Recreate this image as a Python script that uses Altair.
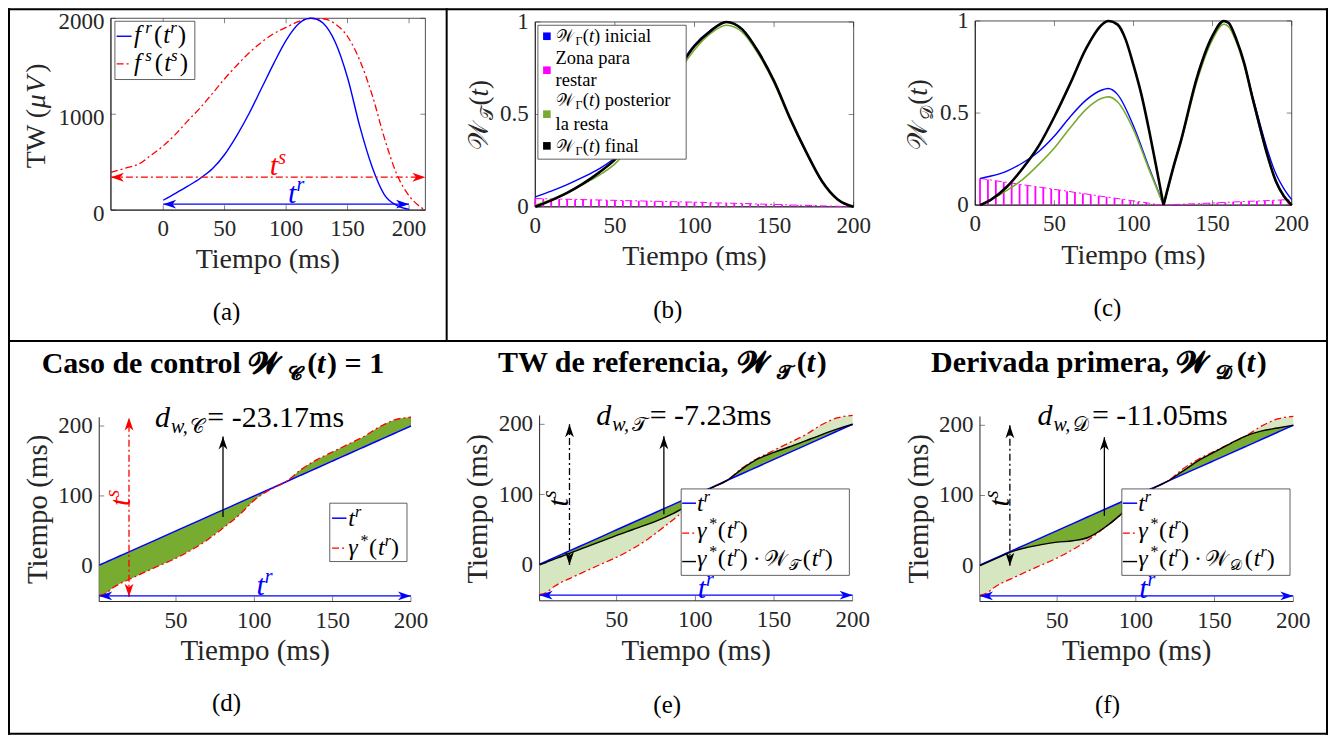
import math
import altair as alt
import pandas as pd

OX, OY = 8, 8
VW, VH = 1321, 727
FONT = "Liberation Serif"
MFONT = "Liberation Serif, DejaVu Serif, DejaVu Sans, Noto Sans"
AX = "#262626"
BLUE, RED, MAG, GRN, LGRN, BLK = "#0000FF", "#FF0000", "#FF00FF", "#77AC30", "#D6E6C1", "#000000"
DD = [7, 3, 2, 3]
HEAD = "M0,0L-1,-0.34L-0.72,0L-1,0.34Z"

# ---------------- data ----------------
# (a) waveforms
FR_T = [0, 10, 20, 30, 40, 50, 60, 70, 80, 90, 100, 110, 115, 120, 125, 130, 140, 150, 160, 170, 180, 190, 200]
FR_V = [103, 175, 250, 330, 430, 580, 780, 1010, 1270, 1530, 1770, 1940, 1985, 2000, 1990, 1950, 1750, 1380, 870, 450, 160, 50, 8]
FS_T = [-42.5, -30, -20, -10, 0, 10, 20, 30, 40, 50, 60, 70, 80, 90, 100, 110, 120, 130, 140, 150, 160, 170, 180, 190, 200, 207, 213.3]
FS_V = [394, 440, 480, 570, 669, 790, 930, 1065, 1215, 1370, 1510, 1640, 1750, 1840, 1905, 1965, 1998, 1995, 1940, 1810, 1560, 1200, 750, 375, 150, 55, 0]

# (b) weight W_T
B_T = [0, 10, 20, 30, 40, 50, 60, 70, 80, 90, 100, 110, 120, 130, 140, 150, 160, 170, 180, 190, 200]
B_BLUE = [0.054, 0.085, 0.12, 0.16, 0.205, 0.265, 0.36, 0.48, 0.61, 0.755, 0.875, 0.955, 1.0, 0.96, 0.84, 0.68, 0.48, 0.30, 0.14, 0.04, 0.0]
B_GREEN = [0.009, 0.04, 0.078, 0.122, 0.17, 0.232, 0.33, 0.453, 0.585, 0.728, 0.85, 0.937, 0.982, 0.945, 0.828, 0.670, 0.473, 0.295, 0.137, 0.039, 0.0]
B_BLACK = [0.0, 0.035, 0.075, 0.125, 0.185, 0.255, 0.35, 0.47, 0.60, 0.745, 0.87, 0.95, 1.0, 0.96, 0.84, 0.68, 0.48, 0.30, 0.14, 0.04, 0.0]
ZB_T = [0, 5, 10, 15, 20, 25, 30, 35, 40, 45, 50, 55, 60, 65, 70, 75, 80, 85, 90, 95, 100,
        105, 110, 115, 120, 125, 130, 135, 140, 145, 150, 155, 160, 165, 170, 175, 180, 185, 190, 195, 200]
ZB_V = [0.045, 0.044, 0.043, 0.042, 0.041, 0.040, 0.039, 0.038, 0.037, 0.036, 0.035, 0.034, 0.033, 0.032, 0.031,
        0.030, 0.029, 0.028, 0.027, 0.026, 0.025, 0.024, 0.022, 0.021, 0.020, 0.019, 0.018, 0.017, 0.015, 0.014,
        0.013, 0.012, 0.010, 0.009, 0.008, 0.007, 0.005, 0.004, 0.003, 0.001, 0.000]

# (c) weight W_D (two humps)
C_BLK_T1 = [3, 10, 20, 30, 40, 50, 60, 70, 80, 84, 90, 95, 100, 105, 110, 115, 119]
C_BLK_V1 = [0, 0.03, 0.1, 0.2, 0.32, 0.48, 0.66, 0.85, 0.98, 1.0, 0.98, 0.9, 0.76, 0.6, 0.4, 0.18, 0]
C_T1 = [3, 10, 20, 30, 40, 50, 60, 70, 80, 84, 90, 100, 110, 119]
C_BLU_V1 = [0.145, 0.158, 0.185, 0.23, 0.29, 0.375, 0.48, 0.57, 0.625, 0.633, 0.6, 0.43, 0.2, 0]
C_GRN_V1 = [0.0, 0.03, 0.08, 0.14, 0.22, 0.31, 0.42, 0.52, 0.58, 0.588, 0.56, 0.41, 0.19, 0]
C_T2 = [119, 125, 130, 140, 150, 157, 160, 165, 170, 175, 180, 185, 190, 195, 200]
C_BLK_V2 = [0, 0.2, 0.35, 0.69, 0.92, 1.0, 0.99, 0.9, 0.77, 0.59, 0.42, 0.26, 0.13, 0.05, 0]
C_BLU_V2 = [0, 0.2, 0.35, 0.69, 0.92, 1.0, 0.99, 0.9, 0.77, 0.6, 0.44, 0.29, 0.17, 0.09, 0.03]
C_GRN_V2 = [0, 0.19, 0.34, 0.67, 0.9, 0.982, 0.97, 0.885, 0.755, 0.58, 0.41, 0.255, 0.125, 0.045, 0]
ZC_T = [3, 8, 13, 18, 23, 28, 33, 38, 43, 48, 53, 58, 63, 68, 73, 78, 83, 88, 93, 98,
        103, 108, 113, 118, 123, 128, 133, 138, 143, 148, 153, 158, 163, 168, 173, 178, 183, 188, 193, 198]
ZC_V = [0.145, 0.139, 0.132, 0.126, 0.120, 0.113, 0.107, 0.101, 0.095, 0.088, 0.082, 0.076, 0.069, 0.063, 0.057,
        0.050, 0.044, 0.038, 0.032, 0.025, 0.019, 0.013, 0.006, 0.000, 0.002, 0.004, 0.006, 0.007, 0.009, 0.011,
        0.013, 0.015, 0.017, 0.019, 0.021, 0.022, 0.024, 0.026, 0.028, 0.030]

# (d)(e)(f) warping paths
BT = [1, 5, 10, 15, 20, 30, 40, 50, 60, 70, 80, 90, 100, 110, 120, 130, 140, 150, 160, 170, 180, 190, 200]
GAMMA = [-42, -39.5, -31, -24.5, -19.5, -9, 1, 11, 23, 37, 54, 72, 94, 109, 120, 138, 152, 163, 174, 185, 199, 209, 212.5]
E_BLACK = [0, 3.5, 8, 12, 16.5, 25, 33.5, 42, 50, 58, 67, 78, 93, 109, 120, 137, 151, 160, 168, 176.5, 185, 193, 200]
F_BLACK = [0, 4, 9, 14, 19, 25.5, 30, 33.5, 35.5, 40.5, 54, 72, 94, 109, 120, 135, 150, 162, 174, 185, 192, 196, 200]

# arrows: x1, y1, x2, y2, colour, dash, double-headed
ARROWS_A = [(-42.5, 343, 213.3, 343, RED, DD, True), (0, 62, 200, 62, BLUE, None, True)]
ARROWS_D = [(20, -44, 20, 212, RED, DD, True), (1, -43, 200, -43, BLUE, None, True), (80, 70, 80, 185, BLK, None, False)]
ARROWS_E = [(20, 0, 20, 200, BLK, DD, True), (1, -43, 200, -43, BLUE, None, True), (80, 72, 80, 183, BLK, None, False)]
ARROWS_F = [(20, 0, 20, 200, BLK, DD, True), (1, -43, 200, -43, BLUE, None, True), (80, 71, 80, 183, BLK, None, False)]

TICKS_X_TOP = [0, 50, 100, 150, 200]
TICKS_X_BOT = [50, 100, 150, 200]
TICKS_Y_A = [0, 1000, 2000]
TICKS_Y_W = [0, 0.5, 1]
TICKS_Y_BOT = [0, 100, 200]

# ---------------- helpers ----------------
ONE = pd.DataFrame({"k": [0]})

EM = {" ": .25, "(": .333, ")": .333, ",": .25, ".": .25, "-": .333, "=": .564, "*": .5, "·": .25,
      "a": .444, "b": .5, "c": .444, "d": .5, "e": .444, "f": .333, "g": .5, "h": .5, "i": .278, "j": .278,
      "k": .5, "l": .278, "m": .778, "n": .5, "o": .5, "p": .5, "q": .5, "r": .333, "s": .389, "t": .278,
      "u": .5, "v": .5, "w": .722, "x": .5, "y": .5, "z": .444, "C": .667, "D": .722, "T": .611, "V": .722,
      "W": .944, "Z": .611, "γ": .45, "Γ": .6, "μ": .55, "𝒲": 1.12, "𝒯": .8, "𝒟": .85, "𝒞": .75,
      "𝓦": 1.25, "𝓒": .8, "𝓣": .85, "𝓓": .9}
EMB = {" ": .25, "(": .333, ")": .333, ",": .25, "=": .57, "1": .5, "a": .5, "b": .556, "c": .444, "d": .556,
       "e": .444, "f": .333, "i": .278, "l": .278, "m": .833, "n": .556, "o": .5, "p": .556, "r": .444,
       "s": .389, "t": .333, "v": .5, "C": .722, "D": .722, "T": .667, "W": 1.0}
I = {"style": "italic"}
B = {"weight": "bold"}
BI = {"weight": "bold", "style": "italic"}


def sup(size, gap=0):
    return {"style": "italic", "dy": -0.38 * size, "gap": gap}


def sub(size, italic=False, gap=0):
    d = {"dy": 0.2 * size, "gap": gap}
    if italic:
        d["style"] = "italic"
    return d


def width(s, size, weight):
    tab = EMB if weight == "bold" else EM
    return sum(tab.get(c, EM.get(c, .5) * 1.05) for c in s) * size


def txt(s, x, y, size, color=BLK, style="normal", weight="normal", angle=0, align="left", baseline="alphabetic"):
    return alt.Chart(ONE).mark_text(
        text=s, font=MFONT, fontSize=size, fontStyle=style, fontWeight=weight, color=color,
        angle=angle, align=align, baseline=baseline
    ).encode(x=alt.value(round(x - OX, 2)), y=alt.value(round(y - OY, 2)))


def rich(parts, x, y, angle=0, color=BLK):
    th = math.radians(angle)
    ax_, ay_ = math.cos(th), math.sin(th)
    nx, ny = -math.sin(th), math.cos(th)
    cum = 0.0
    out = []
    for part in parts:
        s, size = part[0], part[1]
        o = part[2] if len(part) > 2 else {}
        dy = o.get("dy", 0)
        st, wt = o.get("style", "normal"), o.get("weight", "normal")
        out.append(txt(s, x + cum * ax_ + dy * nx, y + cum * ay_ + dy * ny, size, o.get("color", color), st, wt, angle))
        cum += width(s, size, wt) + o.get("gap", 0)
    return out


def prule(x1, x2, y1, y2, color=BLK, w=2, dash=None):
    kw = dict(color=color, strokeWidth=w)
    if dash:
        kw["strokeDash"] = dash
    return alt.Chart(ONE).mark_rule(**kw).encode(
        x=alt.value(x1 - OX), x2=alt.value(x2 - OX), y=alt.value(y1 - OY), y2=alt.value(y2 - OY))


def pbox(x1, y1, x2, y2):
    return alt.Chart(ONE).mark_rect(fill="white", stroke="#3a3a3a", strokeWidth=0.8).encode(
        x=alt.value(x1 - OX), x2=alt.value(x2 - OX), y=alt.value(y1 - OY), y2=alt.value(y2 - OY))


def psquare(x, y, color):
    return alt.Chart(ONE).mark_point(shape="square", filled=True, size=58, color=color, opacity=1).encode(
        x=alt.value(x - OX), y=alt.value(y - OY))


def mk_panel(dx, px, dy, py, xt, yt, box, ylab_dy=0):
    sx = alt.Scale(domain=dx, range=[px[0] - OX, px[1] - OX], nice=False, zero=False)
    sy = alt.Scale(domain=dy, range=[py[0] - OY, py[1] - OY], nice=False, zero=False)
    return dict(sx=sx, sy=sy, dx=dx, dy=dy, xt=xt, yt=yt, box=box, ylab_dy=ylab_dy)


def XQ(f, p):
    return alt.X(f, type="quantitative", scale=p["sx"], axis=None)


def YQ(f, p):
    return alt.Y(f, type="quantitative", scale=p["sy"], axis=None)


def lab(v):
    return "%g" % v


def axes_layers(p):
    out = []
    x0, x1 = p["dx"]
    y0, y1 = p["dy"]
    bt = pd.DataFrame({"v": p["xt"], "e": [y0] * len(p["xt"]), "lab": [lab(v) for v in p["xt"]]})
    lt = pd.DataFrame({"v": p["yt"], "e": [x0] * len(p["yt"]), "lab": [lab(v) for v in p["yt"]]})
    # domain lines (bottom and left)
    dl = pd.DataFrame({"xa": [x0, x0], "xb": [x1, x0], "ya": [y0, y0], "yb": [y0, y1]})
    out.append(alt.Chart(dl).mark_rule(color=AX, strokeWidth=1).encode(x=XQ("xa", p), x2="xb", y=YQ("ya", p), y2="yb"))
    out.append(alt.Chart(bt).mark_tick(orient="vertical", size=5, thickness=0.8, yOffset=-2.5, color=AX)
               .encode(x=XQ("v", p), y=YQ("e", p)))
    out.append(alt.Chart(lt).mark_tick(orient="horizontal", size=5, thickness=0.8, xOffset=2.5, color=AX)
               .encode(x=XQ("e", p), y=YQ("v", p)))
    out.append(alt.Chart(bt).mark_text(font=FONT, fontSize=23, color=AX, align="center", baseline="middle", dy=19)
               .encode(x=XQ("v", p), y=YQ("e", p), text="lab:N"))
    ykw = dict(font=FONT, fontSize=23, color=AX, align="right", baseline="middle", dx=-6.5)
    if p["ylab_dy"]:
        ykw["dy"] = p["ylab_dy"]
    out.append(alt.Chart(lt).mark_text(**ykw).encode(x=XQ("e", p), y=YQ("v", p), text="lab:N"))
    if p["box"]:
        tt = pd.DataFrame({"v": p["xt"], "e": [y1] * len(p["xt"])})
        out.append(alt.Chart(tt).mark_tick(orient="vertical", size=5, thickness=0.8, yOffset=2.5, color=AX)
                   .encode(x=XQ("v", p), y=YQ("e", p)))
        rt = pd.DataFrame({"v": p["yt"], "e": [x1] * len(p["yt"])})
        out.append(alt.Chart(rt).mark_tick(orient="horizontal", size=5, thickness=0.8, xOffset=-2.5, color=AX)
                   .encode(x=XQ("e", p), y=YQ("v", p)))
        fr = pd.DataFrame({"x0": [x0], "x1": [x1], "y0": [y0], "y1": [y1]})
        out.append(alt.Chart(fr).mark_rect(fillOpacity=0, stroke=AX, strokeWidth=0.8)
                   .encode(x=XQ("x0", p), x2="x1", y=YQ("y0", p), y2="y1"))
    return out


def line(p, t, v, color, w=1.5, dash=None):
    df = pd.DataFrame({"t": t, "v": v})
    kw = dict(color=color, strokeWidth=w, interpolate="monotone")
    if dash:
        kw["strokeDash"] = dash
    return alt.Chart(df).mark_line(**kw).encode(x=XQ("t", p), y=YQ("v", p))


def band(p, t, a, b, color):
    df = pd.DataFrame({"t": t, "a": a, "b": b})
    return alt.Chart(df).mark_area(color=color, opacity=1, interpolate="monotone").encode(
        x=XQ("t", p), y=YQ("a", p), y2="b")


def stems(p, t, v, color):
    df = pd.DataFrame({"t": t, "v": v, "z": [0] * len(t)})
    return alt.Chart(df).mark_rule(color=color, strokeWidth=1.8).encode(x=XQ("t", p), y=YQ("z", p), y2="v")


def arrows(p, arr):
    out = []
    for (x1, y1, x2, y2, col, dash, both) in arr:
        df = pd.DataFrame({"x1": [x1], "y1": [y1], "x2": [x2], "y2": [y2]})
        kw = dict(color=col, strokeWidth=1.3)
        if dash:
            kw["strokeDash"] = dash
        out.append(alt.Chart(df).mark_rule(**kw).encode(x=XQ("x1", p), y=YQ("y1", p), x2="x2", y2="y2"))
        if x1 != x2:
            a_end = 0 if x2 > x1 else 180
        else:
            a_end = 270 if y2 > y1 else 90
        hx, hy, ha = [x2], [y2], [a_end]
        if both:
            hx.append(x1)
            hy.append(y1)
            ha.append((a_end + 180) % 360)
        hd = pd.DataFrame({"x": hx, "y": hy, "a": ha})
        out.append(alt.Chart(hd).mark_point(shape=HEAD, filled=True, size=676, color=col, opacity=1, strokeWidth=0)
                   .encode(x=XQ("x", p), y=YQ("y", p), angle=alt.Angle("a:Q", scale=None)))
    return out


def tsup(base, letter, size, color, x, y, angle=0):
    return rich([(base, size, I), (letter, round(size * 0.67), sup(size))], x, y, angle=angle, color=color)


def gamma_parts(size):
    s2 = round(size * 0.67)
    return [("γ", size, {"style": "italic", "gap": 1.5}), ("*", s2, {"dy": -0.36 * size, "gap": 0.5}),
            ("(", size, {"gap": 1}), ("t", size, I), ("r", s2, sup(size, 1)), (")", size)]


layers = []

# ---------------- panel (a) ----------------
pa = mk_panel([-42.5, 213.3], [111, 425.7], [0, 2000], [210, 18], TICKS_X_TOP, TICKS_Y_A, True, ylab_dy=3.5)
layers.append(alt.layer(*axes_layers(pa), line(pa, FS_T, FS_V, RED, 1.3, DD), line(pa, FR_T, FR_V, BLUE, 1.4),
                        *arrows(pa, ARROWS_A)))
layers += [pbox(115, 21, 195, 79.3), prule(116.7, 131.7, 36, 36, BLUE, 1.4), prule(116.7, 131.7, 63.7, 63.7, RED, 1.3, DD)]
for yb, L in [(42.5, "r"), (70.7, "s")]:
    layers += rich([("f", 25, {"style": "italic", "gap": 3}), (L, 17, sup(25, 3)), ("(", 25, {"gap": 1}),
                    ("t", 25, I), (L, 17, sup(25, 2)), (")", 25)], 134, yb)
layers += tsup("t", "s", 30, RED, 270, 175)
layers += tsup("t", "r", 30, BLUE, 288.3, 202.7)
layers += rich([("TW (", 28), ("μ", 28, I), ("V", 28, I), (")", 28)], 45, 168, angle=270, color=AX)
layers.append(txt("Tiempo (ms)", 268, 260, 28, AX, align="center", baseline="middle"))
layers.append(txt("(a)", 226.7, 311.7, 25, BLK, align="center", baseline="middle"))

# ---------------- panel (b) ----------------
pb = mk_panel([0, 200], [535.7, 854.3], [0, 1], [206.7, 21.7], TICKS_X_TOP, TICKS_Y_W, True)
layers.append(alt.layer(*axes_layers(pb), stems(pb, ZB_T, ZB_V, MAG), line(pb, ZB_T, ZB_V, MAG, 1.0, DD),
                        line(pb, B_T, B_BLUE, BLUE, 1.4), line(pb, B_T, B_GREEN, GRN, 1.6),
                        line(pb, B_T, B_BLACK, BLK, 2.6)))
layers += [pbox(538.3, 25, 686.7, 159), psquare(547.3, 36, BLUE), psquare(547.3, 70, MAG),
           psquare(547.3, 114, GRN), psquare(547.3, 145.7, BLK)]
for yb, tail in [(41.5, ") inicial"), (106, ") posterior"), (151.5, ") final")]:
    layers += rich([("𝒲", 17, {"gap": 1}), ("Γ", 12, {"dy": 3}), ("(", 18.5), ("t", 18.5, I), (tail, 18.5)], 556, yb)
layers += [txt("Zona para", 556, 64, 18.5), txt("restar", 556, 85.5, 18.5), txt("la resta", 556, 129.5, 18.5)]
layers += rich([("𝒲", 27), ("𝒯", 18, sub(27)), ("(", 27), ("t", 27, I), (")", 27)], 488, 150, angle=270, color=AX)
layers.append(txt("Tiempo (ms)", 695, 256.7, 28, AX, align="center", baseline="middle"))
layers.append(txt("(b)", 668.3, 310, 25, BLK, align="center", baseline="middle"))

# ---------------- panel (c) ----------------
pc = mk_panel([0, 200], [976, 1292.7], [0, 1], [205, 20.7], TICKS_X_TOP, TICKS_Y_W, True)
layers.append(alt.layer(*axes_layers(pc), stems(pc, ZC_T, ZC_V, MAG), line(pc, ZC_T, ZC_V, MAG, 1.0, DD),
                        line(pc, C_T1, C_BLU_V1, BLUE, 1.4), line(pc, C_T2, C_BLU_V2, BLUE, 1.4),
                        line(pc, C_T1, C_GRN_V1, GRN, 1.6), line(pc, C_T2, C_GRN_V2, GRN, 1.6),
                        line(pc, C_BLK_T1, C_BLK_V1, BLK, 2.6), line(pc, C_T2, C_BLK_V2, BLK, 2.6)))
layers += rich([("𝒲", 27), ("𝒟", 18, sub(27)), ("(", 27), ("t", 27, I), (")", 27)], 928, 150, angle=270, color=AX)
layers.append(txt("Tiempo (ms)", 1134.3, 255.7, 28, AX, align="center", baseline="middle"))
layers.append(txt("(c)", 1108.3, 308.3, 25, BLK, align="center", baseline="middle"))

# ---------------- panel (d) ----------------
pd_ = mk_panel([1, 200], [99.3, 411.3], [-51, 212.5], [601.7, 417.3], TICKS_X_BOT, TICKS_Y_BOT, False)
layers.append(alt.layer(*axes_layers(pd_), band(pd_, BT, GAMMA, BT, GRN), line(pd_, BT, BT, BLUE, 1.5),
                        line(pd_, BT, GAMMA, RED, 1.3, DD), *arrows(pd_, ARROWS_D)))
layers += rich([("Caso de control ", 30, B), ("𝓦", 30, B), ("𝓒", 20, {"weight": "bold", "dy": 7, "gap": 2}),
                ("(", 30, B), ("t", 30, BI), (") = 1", 30, B)], 41.7, 373.3)
layers += rich([("d", 30, {"style": "italic", "gap": 1}), ("w,", 20, sub(30, True)), ("𝒞", 20, sub(30, gap=2)),
                ("= -23.17ms", 30)], 155, 426.7)
layers += tsup("t", "s", 30, RED, 130, 506, angle=270)
layers += tsup("t", "r", 30, BLUE, 256.7, 595)
layers += [pbox(330, 503.3, 407.3, 561.7), prule(332.3, 346.7, 518.3, 518.3, BLUE, 1.5),
           prule(332.3, 346.7, 548.3, 548.3, RED, 1.3, DD)]
layers += tsup("t", "r", 24, BLK, 348.5, 526)
layers += rich(gamma_parts(24), 348.5, 555)
layers.append(txt("Tiempo (ms)", 38.3, 509.5, 29, AX, angle=270, align="center", baseline="middle"))
layers.append(txt("Tiempo (ms)", 255.3, 651.7, 29, AX, align="center", baseline="middle"))
layers.append(txt("(d)", 226.7, 703.3, 25, BLK, align="center", baseline="middle"))


# ---------------- panels (e), (f) ----------------
def warp_panel(px, py, black, arr):
    p = mk_panel([1, 200], px, [-51, 212.5], py, TICKS_X_BOT, TICKS_Y_BOT, False)
    return p, alt.layer(*axes_layers(p), band(p, BT, GAMMA, BT, LGRN), band(p, BT, black, BT, GRN),
                        line(p, BT, BT, BLUE, 1.5), line(p, BT, GAMMA, RED, 1.3, DD), line(p, BT, black, BLK, 1.4),
                        *arrows(p, arr))


def warp_legend(x0, x1, tx, sym):
    out = [pbox(x0, 489, x1, 575.5), prule(x0 + 1, tx - 1, 503.3, 503.3, BLUE, 1.5),
           prule(x0 + 1, tx - 1, 533.3, 533.3, RED, 1.3, DD), prule(x0 + 1, tx - 1, 561.7, 561.7, BLK, 1.4)]
    out += tsup("t", "r", 24, BLK, tx, 511)
    out += rich(gamma_parts(24), tx, 538)
    out += rich(gamma_parts(24)[:-1] + [(")", 24, {"gap": 5}), ("·", 24, {"gap": 5}), ("𝒲", 22, {"gap": 1}),
                                         (sym, 15, {"dy": 4.5, "gap": 1.5}), ("(", 24, {"gap": 1}), ("t", 24, I),
                                         ("r", 16, sup(24, 1)), (")", 24)], tx, 566)
    return out


pe, le = warp_panel([540, 853.3], [601, 415.5], E_BLACK, ARROWS_E)
layers.append(le)
layers += tsup("t", "r", 30, BLUE, 698.3, 598)
layers += warp_legend(681.7, 850, 697.5, "𝒯")
layers += rich([("TW de referencia, ", 30, B), ("𝓦", 30, B), ("𝓣", 20, {"weight": "bold", "dy": 7, "gap": 2}),
                ("(", 30, B), ("t", 30, BI), (")", 30, B)], 498.3, 372.3)
layers += rich([("d", 30, {"style": "italic", "gap": 1}), ("w,", 20, sub(30, True)), ("𝒯", 20, sub(30, gap=2)),
                ("= -7.23ms", 30)], 596.7, 425)
layers += tsup("t", "s", 30, BLK, 568, 506.7, angle=270)
layers.append(txt("Tiempo (ms)", 478.3, 509, 29, AX, angle=270, align="center", baseline="middle"))
layers.append(txt("Tiempo (ms)", 696.7, 651.7, 29, AX, align="center", baseline="middle"))
layers.append(txt("(e)", 667.7, 705, 25, BLK, align="center", baseline="middle"))

pf, lf = warp_panel([980.7, 1294.3], [601.7, 416.5], F_BLACK, ARROWS_F)
layers.append(lf)
layers += tsup("t", "r", 30, BLUE, 1140, 598)
layers += warp_legend(1122.7, 1291, 1139, "𝒟")
layers += rich([("Derivada primera, ", 30, B), ("𝓦", 30, B), ("𝓓", 20, {"weight": "bold", "dy": 7, "gap": 2}),
                ("(", 30, B), ("t", 30, BI), (")", 30, B)], 931.7, 372.3)
layers += rich([("d", 30, {"style": "italic", "gap": 1}), ("w,", 20, sub(30, True)), ("𝒟", 20, sub(30, gap=2)),
                ("= -11.05ms", 30)], 1038.3, 425)
layers += tsup("t", "s", 30, BLK, 1010, 506.7, angle=270)
layers.append(txt("Tiempo (ms)", 920, 509, 29, AX, angle=270, align="center", baseline="middle"))
layers.append(txt("Tiempo (ms)", 1137.5, 651.7, 29, AX, align="center", baseline="middle"))
layers.append(txt("(f)", 1108.3, 705, 25, BLK, align="center", baseline="middle"))

# ---------------- cell borders ----------------
layers += [prule(8, 1329, 9, 9), prule(8, 1329, 734, 734), prule(9, 9, 8, 735), prule(1328, 1328, 8, 735),
           prule(8, 1329, 341, 341), prule(447, 447, 8, 341)]

chart = alt.layer(*layers).resolve_scale(x="independent", y="independent").properties(
    width=VW, height=VH, padding=0, autosize=alt.AutoSizeParams(type="none"), background="white"
).configure_view(strokeWidth=0)

chart.save("out.html", embed_options={"renderer": "svg", "actions": False})
